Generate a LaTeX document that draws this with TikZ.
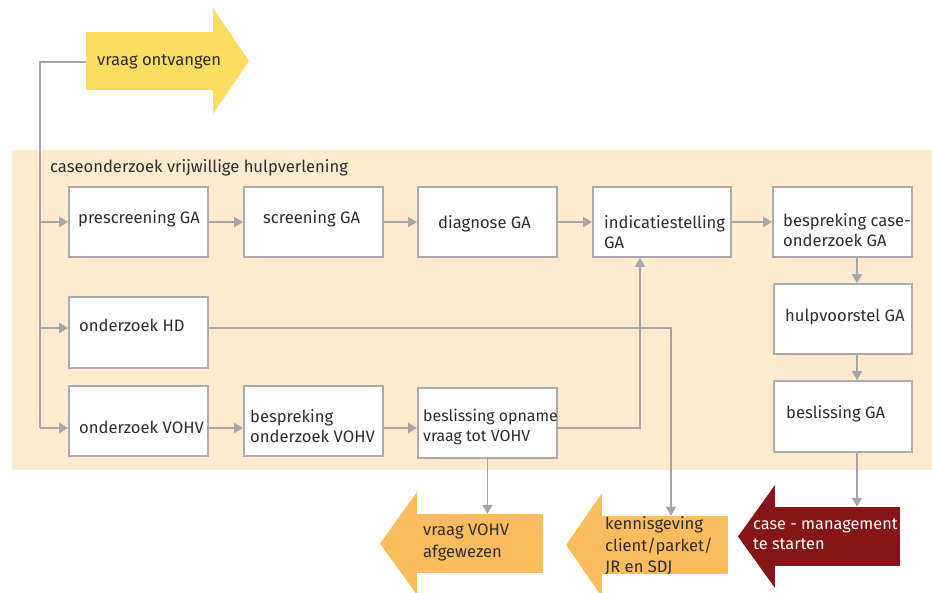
\documentclass[tikz,border=0pt]{standalone}
\usepackage{fontspec}
\setmainfont{Fira Sans}
\usetikzlibrary{arrows.meta}
\definecolor{peach}{RGB}{253,234,207}
\definecolor{linegray}{RGB}{166,166,170}
\definecolor{boxgray}{RGB}{172,172,175}
\definecolor{yel}{RGB}{253,220,98}
\definecolor{orng}{RGB}{251,188,94}
\definecolor{dred}{RGB}{134,21,24}
\definecolor{txt}{RGB}{45,45,45}
\begin{document}
\begin{tikzpicture}[x=1pt,y=-1pt,
  box/.style={draw=boxgray,fill=white,line width=1.8pt,minimum width=139pt,minimum height=70pt,inner sep=0pt},
  lbl/.style={inner sep=0pt,anchor=west,align=left,text=txt,font=\fontsize{16.6}{20}\selectfont},
  lblw/.style={lbl,text=white},
  body/.style={inner sep=0pt,minimum width=126pt,minimum height=58pt},
  conn/.style={draw=linegray,line width=1.8pt},
  arr/.style={conn,-{Triangle[width=10pt,length=9pt]}}
]
\useasboundingbox (0,0) rectangle (932,592);
\fill[peach] (12,150) rectangle (932,470);
\node[lbl] (title) at (50,168) {caseonderzoek vrijwillige hulpverlening};

% big arrows
\node[body,fill=yel,minimum width=127pt] (vo) at (149.5,61) {};
\fill[yel] (vo.north east) -- (213,8) -- (249,61) -- (213,114) -- (vo.south east) -- cycle;
\node[lbl] (votxt) at (97,62) {vraag ontvangen};

\node[body,fill=orng,minimum height=59pt] (va) at (480,543.5) {};
\fill[orng] (va.north west) -- (417,492) -- (380,543.5) -- (417,595) -- (va.south west) -- cycle;
\node[lbl,font=\fontsize{16.6}{22}\selectfont] (vatxt) at (423,542) {vraag VOHV\\afgewezen};

\node[body,fill=orng] (kg) at (665,545) {};
\fill[orng] (kg.north west) -- (602,493) -- (566,545) -- (602,597) -- (kg.south west) -- cycle;
\node[lbl,font=\fontsize{16.6}{21.5}\selectfont] (kgtxt) at (605,546) {kennisgeving\\client/parket/\\JR en SDJ};

\node[body,fill=dred,minimum width=125pt,minimum height=59pt] (cm) at (837.5,536.5) {};
\fill[dred] (cm.north west) -- (775,485) -- (738,536.5) -- (775,588) -- (cm.south west) -- cycle;
\node[lblw,font=\fontsize{16.3}{20}\selectfont] (cmtxt) at (753,534) {case - management\\te starten};

% boxes
\node[box] (b1) at (138.5,222) {};
\node[box] (b2) at (313.5,222) {};
\node[box] (b3) at (487.5,222) {};
\node[box,minimum width=138pt] (b4) at (662,222) {};
\node[box] (b5) at (842.5,222) {};
\node[box,minimum width=138pt] (b6) at (843,319) {};
\node[box,minimum width=138pt,minimum height=71pt] (b7) at (843,416.5) {};
\node[box,minimum height=71pt] (b8) at (138.5,332.5) {};
\node[box] (b9) at (138.5,421) {};
\node[box] (b10) at (313.5,421) {};
\node[box] (b11) at (487.5,423) {};

\node[lbl] (t1) at (78,219) {prescreening GA};
\node[lbl] (t2) at (263,219) {screening GA};
\node[lbl] (t3) at (438,224) {diagnose GA};
\node[lbl] (t4) at (604,232) {indicatiestelling\\GA};
\node[lbl] (t5) at (783,230) {bespreking case-\\onderzoek GA};
\node[lbl] (t6) at (785,317) {hulpvoorstel GA};
\node[lbl] (t7) at (786,414) {beslissing GA};
\node[lbl] (t8) at (79,325) {onderzoek HD};
\node[lbl] (t9) at (79,427) {onderzoek VOHV};
\node[lbl] (t10) at (250,426) {bespreking\\onderzoek VOHV};
\node[lbl,font=\fontsize{15.9}{20}\selectfont] (t11) at (423,427) {beslissing opname\\vraag tot VOHV};

% connectors
\coordinate (vin) at (86,62);
\coordinate (j1) at (40,222);
\coordinate (j2) at (40,328);
\coordinate (j3) at (40,428);
\draw[conn] (vin) -| (j3);
\draw[arr] (j1) -- (b1.west);
\draw[arr] (j2) -- (b8.west |- j2);
\draw[arr] (j3) -- (b9.west |- j3);

\draw[arr] (b1.east) -- (b2.west);
\draw[arr] (b2.east) -- (b3.west);
\draw[arr] (b3.east) -- (b4.west);
\draw[arr] (b4.east) -- (b5.west);
\draw[arr] (b5.south -| 857,0) -- (b6.north -| 857,0);
\draw[arr] (b6.south -| 857,0) -- (b7.north -| 857,0);
\draw[arr] (b7.south -| 857,0) -- (cm.north -| 857,0);

\draw[arr] (b9.east |- 0,428) -- (b10.west |- 0,428);
\draw[arr] (b10.east |- 0,428) -- (b11.west |- 0,428);
\draw[arr] (b11.east |- 0,428) -- (640,428) -- (b4.south -| 640,0);
\draw[arr] (b8.east |- 0,328) -- (671,328) -- (kg.north -| 671,0);
\draw[arr] (b11.south) -- (b11.south |- va.north);
\end{tikzpicture}
\end{document}
